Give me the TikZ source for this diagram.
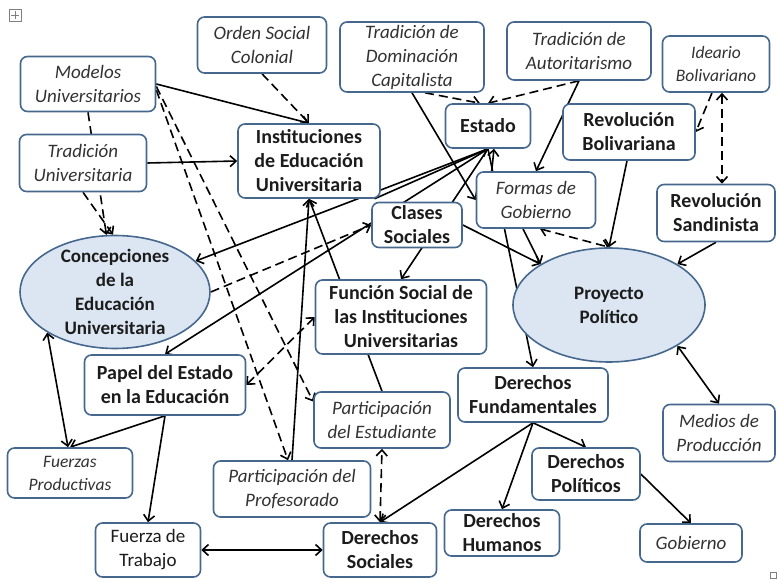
\documentclass[tikz,border=0pt]{standalone}
\usepackage{fontspec}
\setmainfont{Carlito}
\usepackage{tikz}
\usepackage{xcolor}
\usetikzlibrary{positioning,shapes.geometric,arrows.meta}
\definecolor{borde}{RGB}{70,104,142}
\definecolor{relleno}{RGB}{220,230,242}
\definecolor{texto}{RGB}{28,28,28}
\definecolor{textoc}{RGB}{50,50,50}
\pgfdeclarelayer{fondo}
\pgfsetlayers{fondo,main}

\begin{document}
\begin{tikzpicture}[x=10pt, y=10pt,
      >={Straight Barb[length=6pt,width=11pt]},
      caja/.style={draw=borde, line width=1.6pt, rounded corners=7pt, fill=white, align=center, inner sep=1pt, text=texto},
      neg/.style={caja, font=\bfseries\fontsize{20}{24}\selectfont},
      cur/.style={caja, text=textoc, font=\itshape\fontsize{19}{24}\selectfont},
      chica/.style={caja, text=textoc, font=\itshape\fontsize{17.5}{23}\selectfont},
      elipse/.style={ellipse, draw=borde, line width=1.6pt, fill=relleno},
      rotulo/.style={align=center, font=\bfseries\fontsize{19}{24}\selectfont, text=texto},
      linea/.style={line width=1.6pt},
      trazos/.style={line width=1.6pt, dash pattern=on 9pt off 5pt}]
      %\draw [dotted] (0,0) grid (78,58);
      \useasboundingbox (0,0) rectangle (78,58.2);
      \draw [gray, line width=0.6pt] (0.9,57.3) rectangle (2.1,56.1);
      \draw [gray, line width=0.6pt] (1.5,57.1) -- (1.5,56.3) (1.1,56.7) -- (1.9,56.7);
      \draw [gray, line width=0.5pt] (77.0,1.0) rectangle (77.6,0.4);
      \node [cur, minimum width=135pt, minimum height=55pt] (modelos)  at ( 8.8, 49.8) {Modelos\\Universitarios};
      \node [cur, minimum width=127pt, minimum height=57pt] (tradu)    at ( 8.3, 41.9) {Tradición\\Universitaria};
      \node [cur, minimum width=129pt, minimum height=56pt] (orden)    at (26.2, 53.7) {Orden Social\\Colonial};
      \node [neg, minimum width=142pt, minimum height=74pt] (inst)     at (30.9, 42.1) {Instituciones\\de Educación\\Universitaria};
      \node [cur, minimum width=144pt, minimum height=70pt] (domin)    at (41.2, 52.5) {Tradición de\\Dominación\\Capitalista};
      \node [cur, minimum width=144pt, minimum height=58pt] (autor)    at (57.9, 53.1) {Tradición de\\Autoritarismo};
      \node [chica, minimum width=107pt, minimum height=56pt] (ideario) at (71.6, 51.8) {Ideario\\Bolivariano};
      \node [neg, minimum width=85pt, minimum height=44pt]  (estado)   at (48.8, 45.6) {Estado};
      \node [neg, minimum width=132pt, minimum height=56pt] (revbol)   at (62.9, 45.0) {Revolución\\Bolivariana};
      \node [cur, minimum width=119pt, minimum height=56pt] (formas)   at (53.6, 38.2) {Formas de\\Gobierno};
      \node [neg, minimum width=118pt, minimum height=57pt] (revsan)   at (71.6, 36.9) {Revolución\\Sandinista};
      \node [neg, minimum width=90pt, minimum height=45pt]  (clases)   at (41.7, 35.7) {Clases\\Sociales};
      \node [elipse, minimum width=190pt, minimum height=113pt] (concep) at (11.5, 29.0) {};
      \node [rotulo]                                        (concept)  at (concep) {Concepciones\\de la\\Educación\\Universitaria};
      \node [elipse, minimum width=192pt, minimum height=114pt] (proy) at (60.9, 27.7) {};
      \node [rotulo]                                        (proyt)    at (proy) {Proyecto\\Político};
      \node [neg, minimum width=171pt, minimum height=74pt] (funcion)  at (40.1, 26.5) {Función Social de\\las Instituciones\\Universitarias};
      \node [neg, minimum width=161pt, minimum height=60pt] (papel)    at (16.5, 19.7) {Papel del Estado\\en la Educación};
      \node [cur, minimum width=136pt, minimum height=56pt] (estud)    at (38.2, 16.2) {Participación\\del Estudiante};
      \node [neg, minimum width=150pt, minimum height=54pt] (dfund)    at (53.3, 18.7) {Derechos\\Fundamentales};
      \node [cur, minimum width=112pt, minimum height=57pt] (medios)   at (71.9, 14.9) {Medios de\\Producción};
      \node [chica, minimum width=125pt, minimum height=50pt] (fuerzas) at ( 7.0, 10.9) {Fuerzas\\Productivas};
      \node [cur, minimum width=157pt, minimum height=56pt] (profes)   at (29.2,  9.3) {Participación del\\Profesorado};
      \node [neg, minimum width=108pt, minimum height=52pt] (dpol)     at (58.6, 10.8) {Derechos\\Políticos};
      \node [caja, font=\fontsize{19}{24}\selectfont, minimum width=105pt, minimum height=54pt] (ftrab) at (14.8, 3.2) {Fuerza de\\Trabajo};
      \node [neg, minimum width=113pt, minimum height=54pt] (dsoc)     at (38.0,  3.2) {Derechos\\Sociales};
      \node [neg, minimum width=115pt, minimum height=46pt] (dhum)     at (50.2,  4.9) {Derechos\\Humanos};
      \node [cur, minimum width=102pt, minimum height=38pt] (gob)      at (69.1,  3.9) {Gobierno};
      \begin{pgfonlayer}{fondo}
      \draw [linea, ->] (modelos.east) -- (inst.north);
      \draw [trazos, ->] (modelos.south) -- (concep);
      \draw [trazos, ->] (tradu.south) -- ([xshift=-2pt]concep.north);
      \draw [linea, ->] (tradu.east) -- (inst.west);
      \draw [trazos, ->] (orden.south) -- (inst.north);
      \draw [trazos, ->] (modelos.-5) -- ([xshift=-4pt]profes.north);
      \draw [trazos, ->] (modelos.-2) -- (estud.165);
      \draw [trazos, ->] (domin.-70) -- ([xshift=-8pt]estado.north);
      \draw [trazos, ->] (autor.south) -- (estado.north);
      \draw [linea, ->] (domin.south) -- (formas.west);
      \draw [linea, ->] (autor.south) -- (formas.north);
      \draw [linea, ->] (inst.-30) -- (estado.south);
      \draw [linea, ->] (estado.south) -- (concep);
      \draw [linea, ->] (estado.south) -- (papel.north);
      \draw [linea, ->] (estado.south) -- (funcion.north);
      \draw [linea, ->] ([xshift=16pt]formas.north west) -- ([xshift=6pt]estado.south);
      \draw [linea, ->] (estado.south) -- (dfund.north);
      \draw [linea, ->] (clases.east) -- (proy.north west);
      \draw [linea, ->] ([xshift=-13pt]formas.south) -- (proy.north west);
      \draw [trazos, <->] ([xshift=4pt]formas.south) -- (proy.north);
      \draw [linea, ->] ([xshift=-2pt]revbol.south) -- (proy.north);
      \draw [trazos, ->] ([xshift=-4pt]ideario.south) -- (revbol.east);
      \draw [trazos, <->] ([xshift=6pt]ideario.south) -- ([xshift=6pt]revsan.north);
      \draw [linea, ->] (revsan.south) -- (proy.north east);
      \draw [linea, <->] (proy.south east) -- (medios.north);
      \draw [linea, ->] (dfund.south) -- (dsoc.north);
      \draw [linea, ->] (dfund.south) -- (dhum.north);
      \draw [linea, ->] (dfund.south) -- (dpol.north);
      \draw [linea, ->] (dpol.east) -- (gob.north);
      \draw [trazos, <->] (dsoc.north) -- (estud.south);
      \draw [linea, <->] (ftrab.east) -- (dsoc.west);
      \draw [linea, ->] (papel.south) -- (ftrab.north);
      \draw [linea, ->] (papel.south) -- (fuerzas.north);
      \draw [linea, <->] (concep.south west) -- ([xshift=-2pt]fuerzas.north);
      \draw [trazos, ->] (concep.east) -- (clases.west);
      \draw [trazos, <->] (papel.east) -- (funcion.west);
      \draw [linea, ->] (profes.north) -- (inst.south);
      \draw [linea, ->] (estud.north) -- (inst.south);
      \end{pgfonlayer}
      \end{tikzpicture}
\end{document}
